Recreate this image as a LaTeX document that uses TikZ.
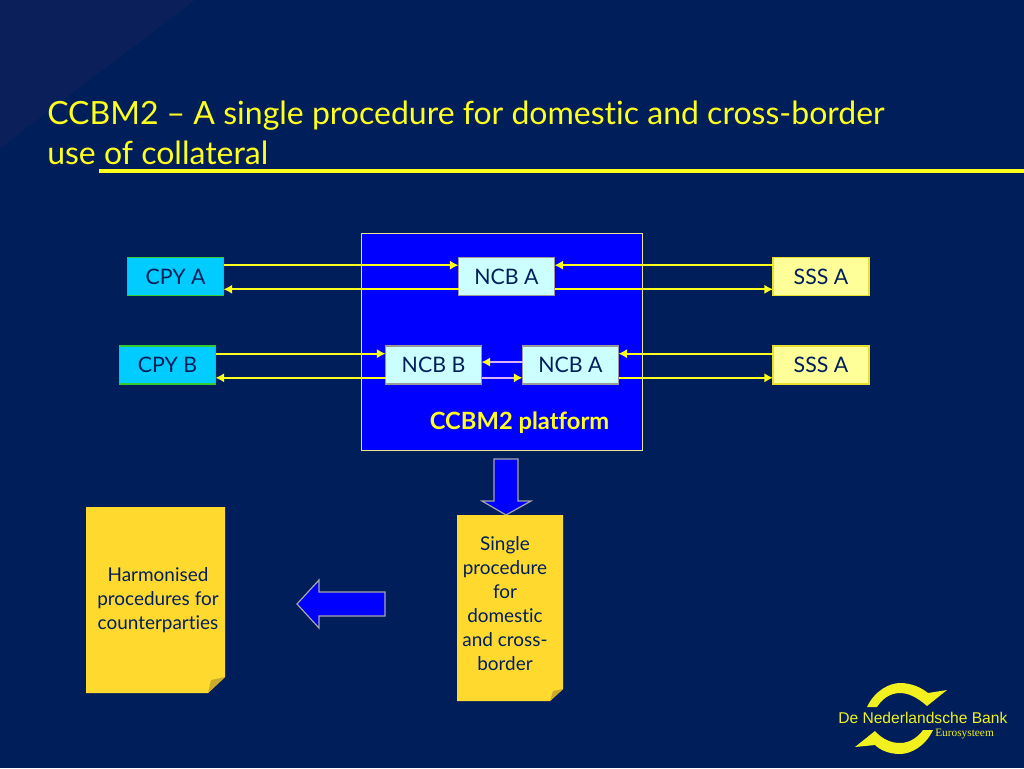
\documentclass[tikz,border=0pt]{standalone}
\usepackage{fontspec}
\setmainfont{Lato}[Ligatures={TeX,CommonOff}]
\newfontfamily\logosans{Liberation Sans}
\newfontfamily\logoserif{Liberation Serif}
\usetikzlibrary{arrows.meta}
\definecolor{bgnavy}{HTML}{001F5A}
\definecolor{bgcorner}{HTML}{0B205B}
\definecolor{titleyellow}{HTML}{FFFF1E}
\definecolor{platblue}{HTML}{0000FF}
\definecolor{cpycyan}{HTML}{00CCFF}
\definecolor{ncbpale}{HTML}{CCFFFF}
\definecolor{ssspale}{HTML}{FFFF99}
\definecolor{docyellow}{HTML}{FFD92E}
\definecolor{docfold}{HTML}{C9AC2A}
\definecolor{boxtext}{HTML}{001F5A}
\definecolor{logoyellow}{HTML}{F2F01E}
\tikzset{
    boxnode/.style={draw=#1, line width=1pt, minimum width=72pt, minimum height=28.5pt, inner sep=0pt, outer sep=0pt, text=boxtext, font=\fontsize{16}{18}\selectfont},
    cpynode/.style={boxnode=green!60!gray, fill=cpycyan},
    ncbnode/.style={boxnode=gray!80!white, fill=ncbpale},
    sssnode/.style={boxnode=yellow!80!gray, fill=ssspale},
    link/.style={draw=titleyellow, line width=1.7pt, -{Latex[length=6.5pt,width=7pt]}},
    innerlink/.style={draw=ncbpale!70!magenta, line width=1.4pt, -{Latex[length=6.5pt,width=7pt,color=titleyellow]}},
    doctext/.style={text=boxtext, align=center, font=\fontsize{14.2}{18}\selectfont},
    docsheet/.style={fill=docyellow, draw=none},
    bigarrow/.style={fill=platblue, draw=gray!70!white, line width=0.9pt},
}
\def\dUp{8.5pt}
\def\dDown{-9.6pt}
\begin{document}
\begin{tikzpicture}[x=0.75pt, y=-0.75pt]
    % --- 1. background ---
    \useasboundingbox (0,0) rectangle (1024,768);
    \fill[bgnavy] (0,0) rectangle (1024,768);
    \fill[bgcorner] (0,0) -- (195,0) -- (0,148) -- cycle;

    % --- 2. title ---
    \node[anchor=base west, inner sep=0pt, text=titleyellow, font=\fontsize{24}{30}\selectfont] (titleone) at (47,124) {CCBM2 -- A single procedure for domestic and cross-border};
    \node[anchor=base west, inner sep=0pt, text=titleyellow, font=\fontsize{24}{30}\selectfont] (titletwo) at (47,164) {use of collateral};
    \draw[titleyellow, line width=2.6pt] (99,171) -- (1024,171);

    % --- 3. platform and boxes ---
    \node[draw=ssspale!80!gray, line width=1pt, fill=platblue, minimum width=211pt, minimum height=163pt, inner sep=0pt] (platform) at (502,342) {};
    \node[cpynode] (cpya) at (175.5,276.5) {CPY A};
    \node[cpynode] (cpyb) at (167.5,365) {CPY B};
    \node[ncbnode] (ncbaup) at (506.5,276.5) {NCB A};
    \node[ncbnode] (ncbb) at (433.5,365) {NCB B};
    \node[ncbnode] (ncbalow) at (570.5,365) {NCB A};
    \node[sssnode] (sssaup) at (821,276.5) {SSS A};
    \node[sssnode] (sssalow) at (821,365) {SSS A};
    \node[text=titleyellow, font=\bfseries\fontsize{17.8}{20}\selectfont] (platlabel) at (519.5,422.5) {CCBM2 platform};

    % --- 4. connectors ---
    \draw[link] ([yshift=\dUp]cpya.east) -- ([yshift=\dUp]ncbaup.west);
    \draw[link] ([yshift=\dDown]ncbaup.west) -- ([yshift=\dDown]cpya.east);
    \draw[link] ([yshift=\dUp]sssaup.west) -- ([yshift=\dUp]ncbaup.east);
    \draw[link] ([yshift=\dDown]ncbaup.east) -- ([yshift=\dDown]sssaup.west);
    \draw[link] ([yshift=\dUp]cpyb.east) -- ([yshift=\dUp]ncbb.west);
    \draw[link] ([yshift=\dDown]ncbb.west) -- ([yshift=\dDown]cpyb.east);
    \draw[link] ([yshift=\dUp]sssalow.west) -- ([yshift=\dUp]ncbalow.east);
    \draw[link] ([yshift=\dDown]ncbalow.east) -- ([yshift=\dDown]sssalow.west);
    \draw[innerlink] ([yshift=2.2pt]ncbalow.west) -- ([yshift=2.2pt]ncbb.east);
    \draw[innerlink] ([yshift=\dDown]ncbb.east) -- ([yshift=\dDown]ncbalow.west);

    % --- 5. block arrows ---
    \draw[bigarrow] (494,459) -- (518,459) -- (518,501) -- (531,501) -- (506,515) -- (482,501) -- (494,501) -- cycle;
    \draw[bigarrow] (385,592) -- (319,592) -- (319,580) -- (297,604) -- (319,628) -- (319,616) -- (385,616) -- cycle;

    % --- 6. yellow sheets ---
    \fill[docsheet] (86,507) -- (225,507) -- (225,677) -- (208,693) -- (86,693) -- cycle;
    \fill[docfold] (225,677) -- (208,693) -- (211,680) -- cycle;
    \fill[docsheet] (457,515) -- (563,515) -- (563,689) -- (550,701) -- (457,701) -- cycle;
    \fill[docfold] (563,689) -- (550,701) -- (553,691) -- cycle;
    \node[doctext] (harmonised) at (158,600) {Harmonised\\procedures for\\counterparties};
    \node[doctext] (single) at (505,604) {Single\\procedure\\for\\domestic\\and cross-\\border};

    % --- 7. logo ---
    \fill[logoyellow] (867,707) .. controls (875,690) and (890,683) .. (900,683) .. controls (912,683) and (922,688) .. (928,693) -- (947,690) -- (927,706) .. controls (918,698) and (909,693) .. (900,693) .. controls (890,693) and (882,699) .. (877,707) -- cycle;
    \fill[logoyellow] (933,730) .. controls (925,747) and (910,754) .. (900,754) .. controls (889,754) and (880,750) .. (875,745) -- (855,747) -- (875,731) .. controls (882,739) and (891,743) .. (900,743) .. controls (910,743) and (918,737) .. (923,730) -- cycle;
    \node[anchor=base west, inner sep=0pt, text=logoyellow, font=\logosans\fontsize{11.7}{13}\selectfont] (bankname) at (838,723) {De Nederlandsche Bank};
    \node[anchor=base west, inner sep=0pt, text=logoyellow, font=\logoserif\fontsize{8.5}{9}\selectfont] (eurosys) at (935,736) {Eurosysteem};
\end{tikzpicture}
\end{document}
